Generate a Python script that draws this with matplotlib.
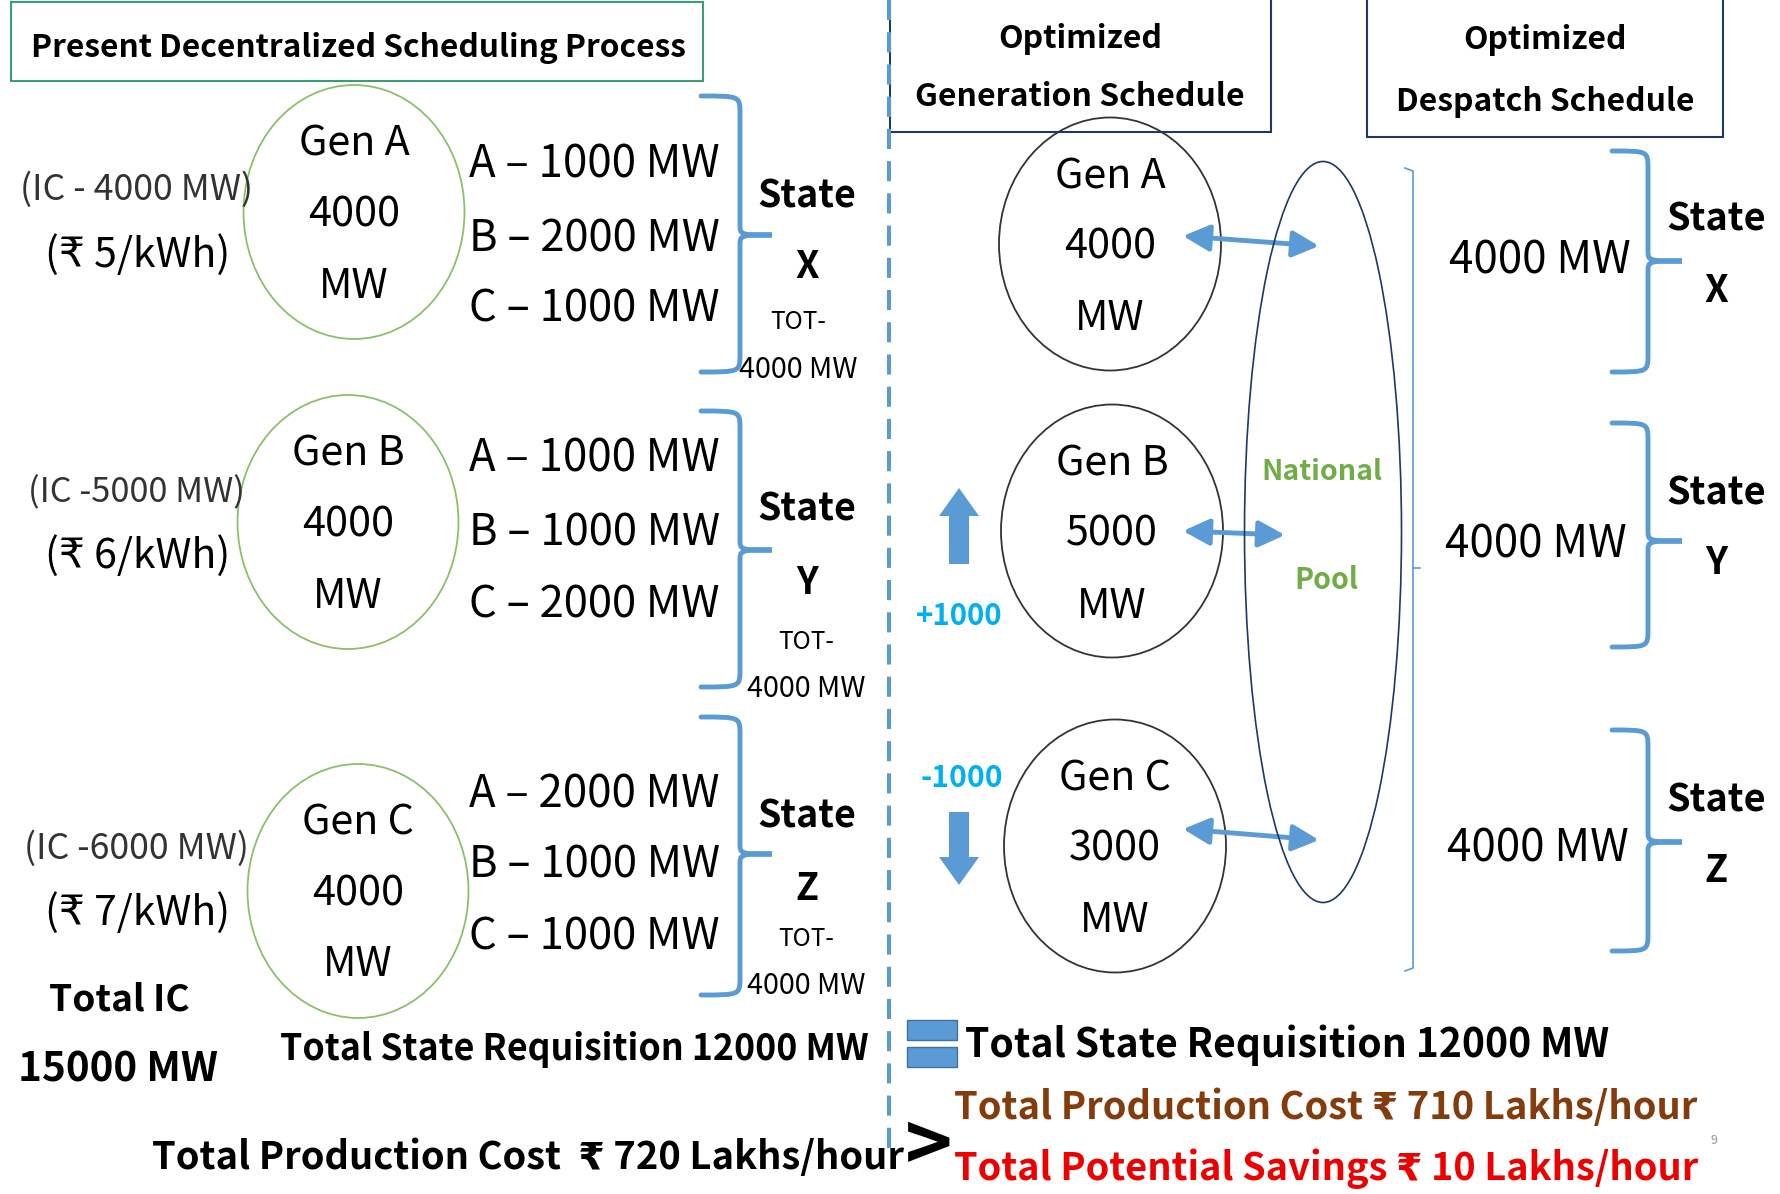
import matplotlib
matplotlib.use('Agg')
import matplotlib.pyplot as plt
from matplotlib.patches import Ellipse, Rectangle, FancyArrow, FancyArrowPatch, PathPatch
from matplotlib.path import Path

# data
gens = ['Gen A', 'Gen B', 'Gen C']
ic_labels = ['(IC - 4000 MW)', '(IC -5000 MW)', '(IC -6000 MW)']
tariff = [5, 6, 7]
present_gen = [4000, 4000, 4000]
# requisition of each state (X, Y, Z) from gens A, B, C
requisition = [[1000, 2000, 1000], [1000, 1000, 2000], [2000, 1000, 1000]]
states = ['X', 'Y', 'Z']
state_total = [4000, 4000, 4000]
optimized_gen = [4000, 5000, 3000]
despatch = [4000, 4000, 4000]
total_ic = 15000
total_req = 12000
cost_present = 720
cost_opt = 710
savings = cost_present - cost_opt

BLUE = '#5b9bd5'
plt.rcParams['font.family'] = ['Noto Sans CJK SC', 'DejaVu Sans']

fig = plt.figure(figsize=(17.8, 11.94), dpi=100)
ax = fig.add_axes([0, 0, 1, 1])
ax.set_xlim(0, 1780)
ax.set_ylim(1194, 0)
ax.axis('off')
r = fig.canvas.get_renderer()
DY = 3  # small nudge so glyphs sit like the slide's


def txt(x, y, s, fs, ha='center', **kw):
    return ax.text(x, y + DY, s, fontsize=fs, ha=ha, va='center', **kw)


def fit(x, y, s, w, ha='center', **kw):
    t = txt(x, y, s, 20, ha=ha, **kw)
    bw = t.get_window_extent(renderer=r).width
    t.set_fontsize(20 * w / bw)
    return t


def brace(x0, xv, xt, ytop, ybot, ytip, rad=18, lw=3.5, color=BLUE):
    verts = [(x0, ytop), (xv, ytop), (xv, ytop), (xv, ytop + rad),
             (xv, ytip - rad * 0.6),
             (xv, ytip), (xv, ytip), (xt, ytip),
             (xv, ytip), (xv, ytip), (xv, ytip + rad * 0.6),
             (xv, ybot - rad),
             (xv, ybot), (xv, ybot), (x0, ybot)]
    codes = [Path.MOVETO, Path.CURVE4, Path.CURVE4, Path.CURVE4,
             Path.LINETO,
             Path.CURVE4, Path.CURVE4, Path.CURVE4,
             Path.CURVE4, Path.CURVE4, Path.CURVE4,
             Path.LINETO,
             Path.CURVE4, Path.CURVE4, Path.CURVE4]
    ax.add_patch(PathPatch(Path(verts, codes), fill=False, ec=color, lw=lw,
                           capstyle='round'))


# ---------------- left half: present process ----------------
ax.add_patch(Rectangle((11, 2), 692, 79, fill=False, ec='#3c9d74', lw=1.5))
fit(358, 45, 'Present Decentralized Scheduling Process', 655, weight='bold')

ax.plot([889, 889], [0, 1150], color=BLUE, lw=2.9, ls=(0, (5, 3)))

left_c = [(354, 212), (348, 522), (358, 891)]
ic_y = [187, 490, 846]
rs_y = [252, 553, 910]
ic_w = [233, 217, 225]
req_y = [[162, 236, 306], [456, 530, 602], [791, 863, 934]]
br_left = [(96, 372, 235), (411, 687, 550), (717, 995, 854)]
st_left = [(193, 263, 319, 367, 798), (506, 580, 639, 686, 806), (813, 885, 936, 983, 806)]

for i in range(3):
    cx, cy = left_c[i]
    ax.add_patch(Ellipse((cx, cy), 221, 254, fill=False, ec='#8cbf6a', lw=1.3))
    t = fit(cx, cy, str(present_gen[i]), 92)
    fs = t.get_fontsize()
    txt(cx, cy - 71, gens[i], fs)
    txt(cx, cy + 71, 'MW', fs)

    fit(136, ic_y[i], ic_labels[i], ic_w[i], color='#333333')
    fit(138, rs_y[i], '(\u20b9 %d/kWh)' % tariff[i], 185)

    for j, g in enumerate('ABC'):
        fit(469, req_y[i][j], '%s \u2013 %d MW' % (g, requisition[i][j]), 251, ha='left')

    yt, yb, ytip = br_left[i]
    brace(701, 740, 772, yt, yb, ytip)

    ys, yl, ytot, ymw, xs = st_left[i]
    t = fit(807, ys, 'State', 99, weight='bold')
    txt(807, yl, states[i], t.get_fontsize(), weight='bold')
    fit(xs, ytot, 'TOT-', 56)
    fit(xs, ymw, '%d MW' % state_total[i], 119)

fit(119, 997, 'Total IC', 141, weight='bold')
fit(118, 1067, '%d MW' % total_ic, 200, weight='bold')
fit(574, 1047, 'Total State Requisition %d MW' % total_req, 588, weight='bold')
fit(528, 1154, 'Total Production Cost  \u20b9 %d Lakhs/hour' % cost_present, 754,
    weight='bold')
txt(929, 1146, '>', 58, weight='bold')

# ---------------- right half: optimized ----------------
ax.add_patch(Rectangle((890, -2), 381, 134, fill=False, ec='#1f3864', lw=1.5))
ax.add_patch(Rectangle((1367, -2), 356, 139, fill=False, ec='#1f3864', lw=1.5))
t = fit(1080, 94, 'Generation Schedule', 330, weight='bold')
txt(1080, 36, 'Optimized', t.get_fontsize(), weight='bold')
t = fit(1545, 99, 'Despatch Schedule', 299, weight='bold')
txt(1545, 37, 'Optimized', t.get_fontsize(), weight='bold')

right_c = [(1110, 244), (1112, 531), (1115, 846)]
arr_ab = [((1183, 236), (1319, 246)), ((1183, 531), (1285, 535)),
          ((1183, 829), (1319, 840))]
for i in range(3):
    cx, cy = right_c[i]
    ax.add_patch(Ellipse((cx, cy), 222, 253, fill=False, ec='#333333', lw=1.3))
    t = fit(cx, cy, str(optimized_gen[i]), 92)
    fs = t.get_fontsize()
    txt(cx, cy - 70, gens[i], fs)
    txt(cx, cy + 72, 'MW', fs)
    ax.add_patch(FancyArrowPatch(arr_ab[i][0], arr_ab[i][1],
                                 arrowstyle='<|-|>,head_length=0.8,head_width=0.4',
                                 mutation_scale=20, lw=3.5, color=BLUE,
                                 shrinkA=0, shrinkB=0))

ax.add_patch(Ellipse((1323, 532), 157, 741, fill=False, ec='#1f3864', lw=1.2))
fit(1322, 469, 'National', 121, weight='bold', color='#70ad47')
fit(1326, 577, 'Pool', 64, weight='bold', color='#70ad47')

delta = [optimized_gen[1] - present_gen[1], optimized_gen[2] - present_gen[2]]
ax.add_patch(FancyArrow(959, 564, 0, -76, width=20, head_width=40, head_length=28,
                        length_includes_head=True, color=BLUE, lw=0))
fit(959, 613, '%+d' % delta[0], 87, weight='bold', color='#00b0f0')
fit(962, 775, '%d' % delta[1], 82, weight='bold', color='#00b0f0')
ax.add_patch(FancyArrow(959, 812, 0, 73, width=20, head_width=40, head_length=28,
                        length_includes_head=True, color=BLUE, lw=0))

# thin flat brace in front of the despatch column
ax.plot([1405, 1413, 1413, 1405], [168, 171, 968, 971], color=BLUE, lw=1.2)
ax.plot([1413, 1420], [568, 568], color=BLUE, lw=1.2)

br_right = [(151, 372, 261), (423, 647, 541), (730, 951, 842)]
mw_right = [(1540, 258), (1536, 541), (1538, 846)]
st_right = [(216, 287), (490, 560), (797, 867)]
for i in range(3):
    fit(mw_right[i][0], mw_right[i][1], '%d MW' % despatch[i], 182)
    yt, yb, ytip = br_right[i]
    brace(1612, 1648, 1682, yt, yb, ytip)
    t = fit(1716, st_right[i][0], 'State', 100, weight='bold')
    txt(1716, st_right[i][1], states[i], t.get_fontsize(), weight='bold')

# "=" sign
ax.add_patch(Rectangle((907, 1020), 50, 20, fc=BLUE, ec='#41719c', lw=1))
ax.add_patch(Rectangle((907, 1047), 50, 20, fc=BLUE, ec='#41719c', lw=1))

fit(1287, 1042, 'Total State Requisition %d MW' % total_req, 644, weight='bold')
fit(1326, 1104, 'Total Production Cost \u20b9 %d Lakhs/hour' % cost_opt, 745,
    weight='bold', color='#843c0c')
fit(1326, 1166, 'Total Potential Savings \u20b9 %d Lakhs/hour' % savings, 745,
    weight='bold', color='#ee0000')
ax.text(1714, 1140, '9', fontsize=9, color='#999999', ha='center', va='center')

fig.savefig('out.png', dpi=100, facecolor='white')
